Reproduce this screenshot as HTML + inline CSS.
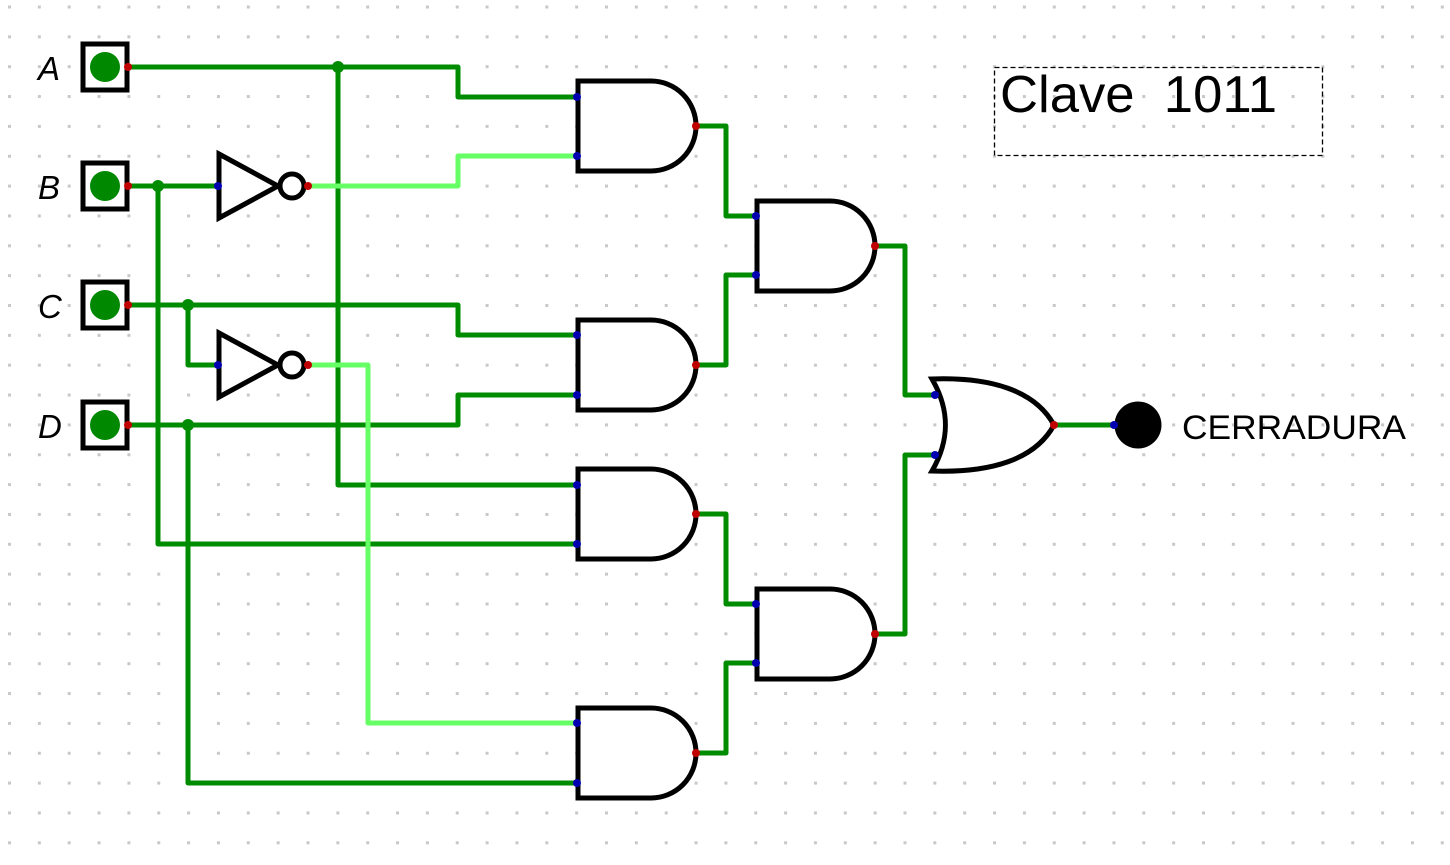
<!DOCTYPE html>
<html><head><meta charset="utf-8"><style>
html,body{margin:0;padding:0;background:#fff;}
svg{display:block;}
</style></head><body>
<svg width="1450" height="865" viewBox="0 0 1450 865" xmlns="http://www.w3.org/2000/svg">
<defs>
<pattern id="g" x="8" y="5.5" width="29.85" height="29.85" patternUnits="userSpaceOnUse">
<rect x="0" y="0" width="3" height="3" fill="#c8c8c8"/>
</pattern>
</defs>
<rect width="1450" height="865" fill="url(#g)"/>

<g fill="none" stroke-width="5" stroke-linejoin="round" stroke-linecap="round">
<g stroke="#008c00">
<polyline points="128,67 458,67 458,97 577,97"/>
<polyline points="338,67 338,485 577,485"/>
<polyline points="128,186 218,186"/>
<polyline points="158,186 158,544 577,544"/>
<polyline points="128,305 458,305 458,335 577,335"/>
<polyline points="188,305 188,365 218,365"/>
<polyline points="128,425 458,425 458,395 577,395"/>
<polyline points="188,425 188,783 577,783"/>
<polyline points="696,126 726,126 726,216 756,216"/>
<polyline points="696,365 726,365 726,275 756,275"/>
<polyline points="696,514 726,514 726,604 756,604"/>
<polyline points="696,753 726,753 726,663 756,663"/>
<polyline points="875,246 905,246 905,395 935,395"/>
<polyline points="875,634 905,634 905,455 935,455"/>
<polyline points="1054,425 1114,425"/>
</g>
<g stroke="#66ff66">
<polyline points="308,186 458,186 458,156 577,156"/>
<polyline points="308,365 368,365 368,723 577,723"/>
</g>
</g>
<g fill="#008c00">
<circle cx="338" cy="67" r="6"/>
<circle cx="158" cy="186" r="6"/>
<circle cx="188" cy="305" r="6"/>
<circle cx="188" cy="425" r="6"/>
</g>

<g>
<g stroke="#000" stroke-width="5" fill="#fff">
<rect x="83" y="44" width="44" height="46"/>
<rect x="83" y="163" width="44" height="46"/>
<rect x="83" y="282" width="44" height="46"/>
<rect x="83" y="402" width="44" height="46"/>
</g>
<g fill="#008800">
<circle cx="105" cy="67" r="15"/>
<circle cx="105" cy="186" r="15"/>
<circle cx="105" cy="305" r="15"/>
<circle cx="105" cy="425" r="15"/>
</g>
</g>
<g font-family="Liberation Sans, sans-serif" font-style="italic" font-size="33" fill="#000">
<text x="38" y="80">A</text>
<text x="38" y="199">B</text>
<text x="38" y="318">C</text>
<text x="38" y="438">D</text>
</g>

<g stroke="#000" stroke-width="5" fill="#fff" stroke-linejoin="miter">
<polygon points="219,154 219,218 278,186"/>
<circle cx="292" cy="186" r="12"/>
<polygon points="219,333 219,397 278,365"/>
<circle cx="292" cy="365" r="12"/>
</g>

<g stroke="#000" stroke-width="5" fill="#fff">
<path d="M578,81 H651 A45,45 0 0 1 651,171 H578 Z"/>
<path d="M578,320 H651 A45,45 0 0 1 651,410 H578 Z"/>
<path d="M578,469 H651 A45,45 0 0 1 651,559 H578 Z"/>
<path d="M578,708 H651 A45,45 0 0 1 651,798 H578 Z"/>
<path d="M757,201 H830 A45,45 0 0 1 830,291 H757 Z"/>
<path d="M757,589 H830 A45,45 0 0 1 830,679 H757 Z"/>
<path d="M932,379 C990,377 1035,390 1054,425 C1035,460 990,473 932,471 C950,440 950,410 932,379 Z"/>
</g>

<circle cx="1138" cy="425" r="23.5" fill="#000"/>
<text x="1182" y="439" font-family="Liberation Sans, sans-serif" font-size="34" textLength="224" lengthAdjust="spacingAndGlyphs" fill="#000">CERRADURA</text>

<g fill="#0000b0">
<circle cx="218" cy="186" r="4"/><circle cx="218" cy="365" r="4"/>
<circle cx="577" cy="97" r="4"/><circle cx="577" cy="156" r="4"/>
<circle cx="577" cy="335" r="4"/><circle cx="577" cy="395" r="4"/>
<circle cx="577" cy="485" r="4"/><circle cx="577" cy="544" r="4"/>
<circle cx="577" cy="723" r="4"/><circle cx="577" cy="783" r="4"/>
<circle cx="756" cy="216" r="4"/><circle cx="756" cy="275" r="4"/>
<circle cx="756" cy="604" r="4"/><circle cx="756" cy="663" r="4"/>
<circle cx="935" cy="395" r="4"/><circle cx="935" cy="455" r="4"/>
<circle cx="1114" cy="425" r="4"/>
</g>
<g fill="#c00000">
<circle cx="128" cy="67" r="4"/><circle cx="128" cy="186" r="4"/>
<circle cx="128" cy="305" r="4"/><circle cx="128" cy="425" r="4"/>
<circle cx="308" cy="186" r="4"/><circle cx="308" cy="365" r="4"/>
<circle cx="696" cy="126" r="4"/><circle cx="696" cy="365" r="4"/>
<circle cx="696" cy="514" r="4"/><circle cx="696" cy="753" r="4"/>
<circle cx="875" cy="246" r="4"/><circle cx="875" cy="634" r="4"/>
<circle cx="1054" cy="425" r="4"/>
</g>

<rect x="994.5" y="67.5" width="328" height="88" fill="none" stroke="#000" stroke-width="1.3" stroke-dasharray="5,3"/>
<text x="1000" y="112" font-family="Liberation Sans, sans-serif" font-size="52" textLength="277" lengthAdjust="spacingAndGlyphs" fill="#000" xml:space="preserve">Clave  1011</text>
</svg>
</body></html>
